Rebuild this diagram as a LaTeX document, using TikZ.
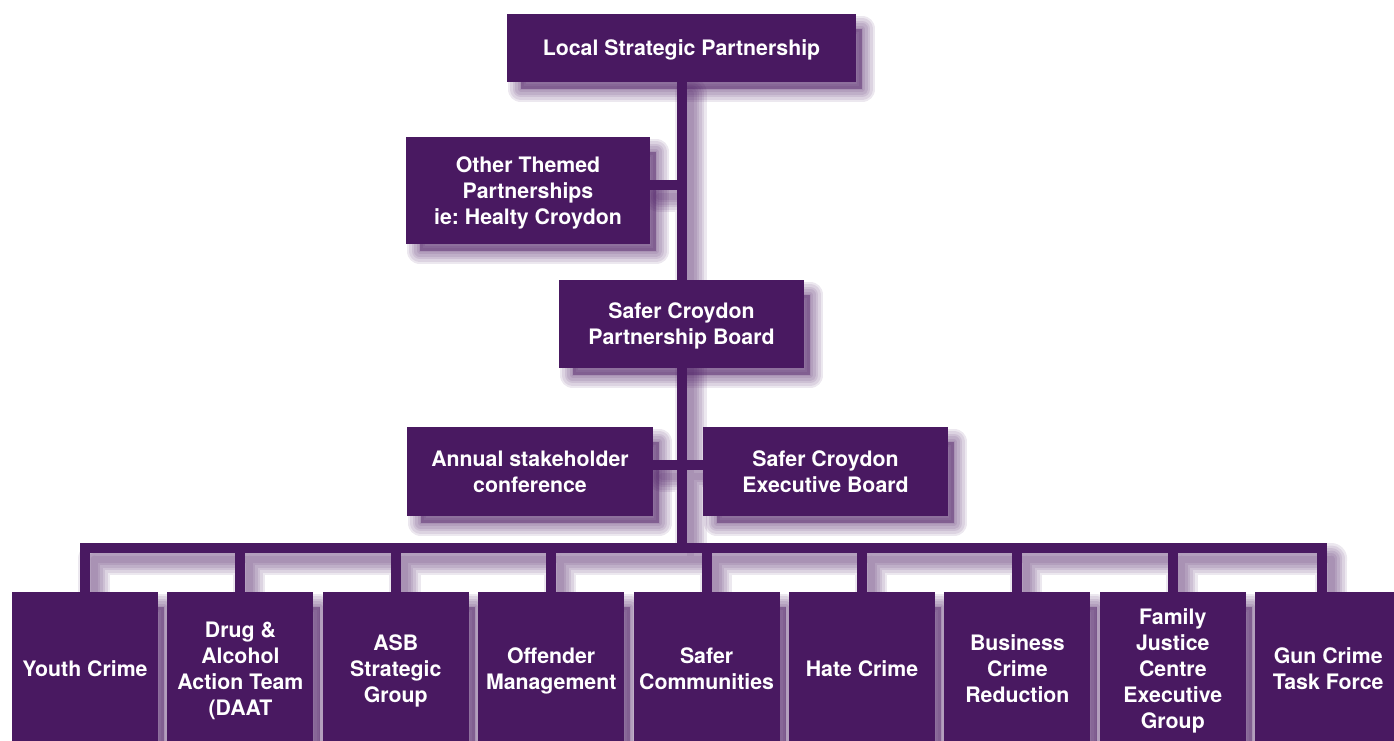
\documentclass[tikz,border=0pt]{standalone}
\usepackage{fontspec}
\setmainfont{TeX Gyre Heros}
\frenchspacing
\usetikzlibrary{calc}
\pgfdeclarelayer{shadow}
\pgfdeclarelayer{lines}
\pgfsetlayers{shadow,lines,main}
\definecolor{cpurple}{RGB}{73,25,97}
\tikzset{
  orgbase/.style={fill=cpurple, text=white, font=\fontsize{21.3}{26}\selectfont\bfseries,
    inner sep=0pt, text depth=0pt},
  org/.style={orgbase, align=center},
  leaf/.style={org, minimum width=146pt, minimum height=154pt},
  conn/.style={draw=cpurple, line width=10pt, line cap=rect},
  shade/.style={draw=cpurple, fill=cpurple, opacity=0.1, line join=round},
  shadeline/.style={draw=cpurple, opacity=0.1, line cap=round}
}
\newcommand\orgnet[1]{%
  ($(lsp.south)+#1$) -- ($(lsp.south |- bus)+#1$)
  ($(other.east)+(0,-5.5)+#1$) -- ($(other.east -| lsp.south)+(0,-5.5)+#1$)
  ($(annual.east)+(0,-6.5)+#1$) -- ($(exec.west)+(0,-6.5)+#1$)
  ($(b1.north |- bus)+#1$) -- ($(b9.north |- bus)+(-6,0)+#1$)
  \foreach \i in {1,...,8}{ ($(b\i.north |- bus)+#1$) -- ($(b\i.north)+#1$) }
  ($(b9.north |- bus)+(-6,0)+#1$) -- ($(b9.north)+(-6,0)+#1$)
}
\begin{document}
\begin{tikzpicture}[x=1pt, y=-1pt]
\useasboundingbox (0,0) rectangle (1394,740);
\clip (0,0) rectangle (1394,740);
\node[orgbase, minimum width=349pt, minimum height=68pt, text height=15.5pt] (lsp) at (681.5,48) {Local Strategic Partnership};
\node[org, minimum width=244pt, minimum height=107pt] (other) at (528,190.5) {Other Themed\\Partnerships\\ie: Healty Croydon};
\node[org, minimum width=245pt, minimum height=88pt] (spb) at (681.5,324) {Safer Croydon\\Partnership Board};
\node[org, minimum width=246pt, minimum height=89pt] (annual) at (530,471.5) {Annual stakeholder\\conference};
\node[org, minimum width=245pt, minimum height=89pt] (exec) at (825.5,471.5) {Safer Croydon\\Executive Board};
\node[leaf] (b1) at (85,669) {Youth Crime};
\node[leaf] (b2) at (240.4,669) {Drug \&\\Alcohol\\Action Team\\(DAAT};
\node[leaf] (b3) at (395.8,669) {ASB\\Strategic\\Group};
\node[leaf] (b4) at (551.2,669) {Offender\\Management};
\node[leaf] (b5) at (706.6,669) {Safer\\Communities};
\node[leaf] (b6) at (862,669) {Hate Crime};
\node[leaf] (b7) at (1017.4,669) {Business\\Crime\\Reduction};
\node[leaf] (b8) at (1172.8,669) {Family\\Justice\\Centre\\Executive\\Group};
\node[leaf] (b9) at (1328.2,669) {Gun Crime\\Task Force};
\coordinate (bus) at (680,548);
\begin{pgfonlayer}{lines}
  \path[conn] \orgnet{(0,0)};
\end{pgfonlayer}
\begin{pgfonlayer}{shadow}
  \foreach \w in {26,21,16,11,6,1} {
    \path[shadeline, line width=\w pt+6pt] \orgnet{(9,11)};
    \foreach \n in {lsp,other,spb,annual,exec,b1,b2,b3,b4,b5,b6,b7,b8,b9} {
      \path[shade, line width=\w pt] ($(\n.north west)+(14,15)$) rectangle ($(\n.south east)+(6,7)$);
    }
  }
\end{pgfonlayer}
\end{tikzpicture}
\end{document}
